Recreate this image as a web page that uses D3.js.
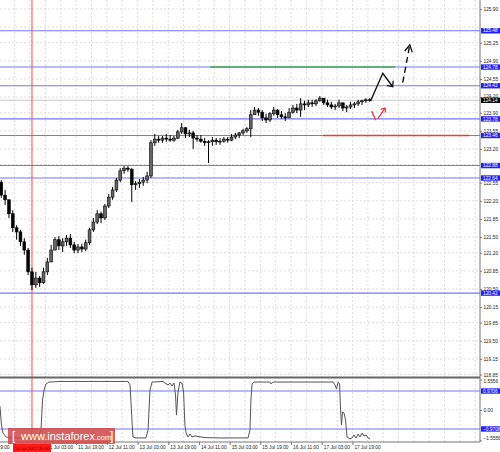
<!DOCTYPE html>
<html><head><meta charset="utf-8">
<script src="https://cdn.jsdelivr.net/npm/d3@7"></script>
<style>body{margin:0;background:#fff}svg{display:block}text{font-family:"Liberation Sans",Arial,sans-serif}</style>
</head><body>
<svg id="c" width="500" height="452"></svg>
<script>
// ---------- DATA ----------
// 2-hour bars, hour index = barStartHour + 2*i (hour 0 = 9 Jul 19:00)
const barStartHour = 9, barStep = 2;
const opens  = [122.56,122.31,122.22,121.95,121.68,121.60,121.41,121.25,120.83,120.58,120.71,120.62,120.83,121.02,121.25,121.45,121.33,121.41,121.48,121.35,121.25,121.31,121.27,121.39,121.64,121.79,121.95,121.87,122.10,122.27,122.41,122.60,122.78,122.83,122.81,122.51,122.53,122.56,122.60,122.68,123.32,123.39,123.37,123.41,123.39,123.37,123.41,123.53,123.61,123.49,123.51,123.41,123.39,123.35,123.32,123.34,123.37,123.34,123.35,123.39,123.37,123.43,123.47,123.51,123.55,123.59,123.86,123.95,123.91,123.80,123.76,123.88,123.95,123.86,123.82,123.80,123.91,123.99,123.95,124.07,124.05,124.09,124.07,124.13,124.18,124.09,124.05,124.01,124.03,124.09,123.99,124.01,124.05,124.07,124.11,124.13,124.15];
const highs  = [122.60,122.41,122.22,122.02,121.73,121.64,121.48,121.29,120.91,120.83,120.75,120.91,121.10,121.35,121.50,121.52,121.48,121.54,121.56,121.41,121.37,121.37,121.45,121.68,121.87,122.02,121.99,122.14,122.33,122.47,122.64,122.83,122.87,122.87,122.83,122.58,122.62,122.66,122.76,123.37,123.49,123.45,123.45,123.49,123.47,123.45,123.57,123.70,123.62,123.57,123.55,123.47,123.47,123.41,123.37,123.43,123.41,123.41,123.43,123.43,123.49,123.51,123.53,123.59,123.62,123.95,124.01,123.99,123.95,123.88,123.91,124.01,123.97,123.93,123.89,123.99,124.05,124.07,124.18,124.13,124.15,124.15,124.16,124.22,124.18,124.15,124.11,124.07,124.15,124.09,124.05,124.11,124.11,124.15,124.15,124.18,124.18];
const lows   = [122.26,122.12,121.87,121.60,121.45,121.33,121.16,120.77,120.48,120.52,120.54,120.60,120.77,121.02,121.25,121.25,121.21,121.33,121.29,121.19,121.19,121.21,121.23,121.35,121.60,121.75,121.77,121.83,122.06,122.22,122.37,122.56,122.72,122.76,122.18,122.41,122.45,122.49,122.54,122.64,123.26,123.32,123.32,123.34,123.34,123.34,123.39,123.49,123.41,123.43,123.20,123.34,123.32,123.26,122.93,123.26,123.28,123.28,123.32,123.32,123.35,123.39,123.41,123.47,123.51,123.43,123.86,123.84,123.74,123.70,123.72,123.84,123.80,123.78,123.74,123.80,123.88,123.89,123.82,123.95,124.01,124.01,124.03,124.11,124.05,124.01,123.97,123.95,123.99,123.93,123.91,123.97,123.99,124.03,124.05,124.09,124.11];
const closes = [122.31,122.22,121.95,121.68,121.60,121.41,121.25,120.83,120.58,120.71,120.62,120.83,121.02,121.25,121.45,121.33,121.41,121.48,121.35,121.25,121.31,121.27,121.39,121.64,121.79,121.95,121.87,122.10,122.27,122.41,122.60,122.78,122.83,122.81,122.51,122.53,122.56,122.60,122.68,123.32,123.39,123.37,123.41,123.39,123.37,123.41,123.53,123.61,123.49,123.51,123.41,123.39,123.35,123.32,123.34,123.37,123.34,123.35,123.39,123.37,123.43,123.47,123.51,123.55,123.59,123.86,123.95,123.91,123.80,123.76,123.88,123.95,123.86,123.82,123.80,123.91,123.99,123.95,124.07,124.05,124.09,124.07,124.13,124.18,124.09,124.05,124.01,124.03,124.09,123.99,124.01,124.05,124.07,124.11,124.13,124.15,124.14];

// grid levels (all) and the price labels that are visible (others hidden under level boxes)
const priceGrid  = [125.90,125.55,125.25,124.90,124.55,124.20,123.90,123.55,123.20,122.90,122.55,122.20,121.85,121.50,121.20,120.85,120.50,120.15,119.85,119.50,119.15,118.85];
const priceTicks = [125.90,125.25,124.90,124.55,124.20,123.90,123.55,123.20,122.55,122.20,121.85,121.50,121.20,120.85,120.50,120.15,119.85,119.50,119.15,118.85];
const levelPrices = [125.48,124.78,124.42,123.78,123.46,122.88,122.64,120.42];
const currentPrice = 124.14;

const timeLabels = ["9 Jul 19:00","10 Jul 11:00","11 Jul 03:00","11 Jul 19:00","12 Jul 11:00","13 Jul 03:00","13 Jul 19:00","14 Jul 11:00","15 Jul 03:00","15 Jul 19:00","16 Jul 11:00","17 Jul 03:00","17 Jul 19:00"];
const timeLabelHours = [0,16,32,48,64,80,96,112,128,144,160,176,192];
const markerHour = 25, markerLabel = "10 Jul 2017 20:00";

const indHours  = [8.3,9.1,9.9,11.5,14.6,21.4,28.1,29.7,30.5,31.3,32.3,33.9,39.6,60.5,75.0,76.1,77.1,77.6,79.2,84.4,85.5,86.5,87.6,93.3,94.3,95.9,96.9,98.0,99.0,99.8,100.3,101.1,102.1,103.2,104.0,104.7,105.3,106.3,107.4,108.4,110.0,115.2,123.0,137.6,138.6,139.1,139.7,140.7,149.0,149.6,150.6,164.7,181.9,182.9,183.7,184.5,185.3,185.8,186.3,186.8,187.6,188.4,189.2,190.7,191.8,192.8,193.9,194.9,195.9,197.0,198.0,199.1,200.1,201.2];
const indValues = [0.20,-0.77,-1.18,-1.38,-1.43,-1.43,-1.43,-1.02,0.51,1.02,1.33,1.43,1.46,1.46,1.46,1.28,-0.51,-1.38,-1.43,-1.43,-1.02,1.02,1.43,1.46,1.38,1.28,1.38,1.23,1.38,0.77,-0.26,0.92,1.43,1.38,0.92,-0.77,-1.18,-1.38,-1.23,-1.38,-1.33,-1.41,-1.43,-1.43,-1.02,0.51,1.33,1.43,1.43,1.33,1.43,1.43,1.43,1.28,1.07,1.43,1.33,0.00,-0.77,-0.10,-0.15,-0.51,-1.38,-1.48,-1.43,-1.28,-1.43,-1.23,-1.38,-1.18,-1.33,-1.28,-1.43,-1.48];
const indTicks = [1.5556, 0.00, -1.5556];
const indLevels = [0.9706, -0.9706];

// forecast drawings (hour, price)
const greenLine = {hours:[117.8,214.2], price:124.78};
const redLine   = {hours:[176.7,252.7], price:123.46};
const solidArrowHours = [201.5,207.8,213.0], solidArrowPrices = [124.13,124.66,124.40];
const dashArrowHours  = [218.2,221.9],       dashArrowPrices  = [124.48,125.21];
const redArrowHours   = [202.0,204.1,205.2,209.0], redArrowPrices = [123.93,123.76,123.78,123.99];

// ---------- LAYOUT ----------
const plotR = 480, mainBot = 377, indTop = 378, indBot = 442;
const x = d3.scaleLinear().domain([0,100]).range([-16,-16+191.9]);
const y = d3.scaleLinear().domain([118.85,125.90]).range([374.5,9]);
const yi = d3.scaleLinear().domain([-1.5556,1.5556]).range([440.4,379.6]);

const svg = d3.select("#c");
const defs = svg.append("defs");
defs.append("clipPath").attr("id","cm").append("rect").attr("x",0).attr("y",0).attr("width",plotR).attr("height",mainBot);
defs.append("clipPath").attr("id","ci").append("rect").attr("x",0).attr("y",indTop).attr("width",plotR).attr("height",indBot-indTop);

const gridCol = "#d4d4d4";
const vHours = d3.range(0, 260, 8);
svg.append("g").selectAll("line").data(vHours).join("line")
  .attr("x1",d=>x(d)).attr("x2",d=>x(d)).attr("y1",0).attr("y2",indBot)
  .attr("stroke",gridCol).attr("stroke-width",0.8).attr("stroke-dasharray","2,2");
svg.append("g").attr("clip-path","url(#cm)").selectAll("line").data(priceGrid).join("line")
  .attr("x1",0).attr("x2",plotR).attr("y1",d=>y(d)).attr("y2",d=>y(d))
  .attr("stroke",gridCol).attr("stroke-width",0.8).attr("stroke-dasharray","2,2");
svg.append("g").selectAll("line").data([0]).join("line")
  .attr("x1",0).attr("x2",plotR).attr("y1",d=>yi(d)).attr("y2",d=>yi(d))
  .attr("stroke",gridCol).attr("stroke-width",0.8).attr("stroke-dasharray","2,2");

svg.append("line").attr("x1",0).attr("x2",plotR).attr("y1",y(currentPrice)).attr("y2",y(currentPrice))
  .attr("stroke","#c8c8c8").attr("stroke-width",1);

const blue = "#7474ff";
svg.append("g").selectAll("line").data(levelPrices).join("line")
  .attr("x1",0).attr("x2",plotR).attr("y1",d=>y(d)).attr("y2",d=>y(d))
  .attr("stroke",blue).attr("stroke-width",1.1);
svg.append("g").selectAll("line").data(indLevels).join("line")
  .attr("x1",0).attr("x2",plotR).attr("y1",d=>yi(d)).attr("y2",d=>yi(d))
  .attr("stroke",blue).attr("stroke-width",1.1);

svg.append("line").attr("x1",x(greenLine.hours[0])).attr("x2",x(greenLine.hours[1]))
  .attr("y1",y(greenLine.price)).attr("y2",y(greenLine.price)).attr("stroke","#3fae49").attr("stroke-width",1.6);
svg.append("line").attr("x1",x(redLine.hours[0])).attr("x2",x(redLine.hours[1]))
  .attr("y1",y(redLine.price)).attr("y2",y(redLine.price)).attr("stroke","#f03a3a").attr("stroke-width",1.6);

svg.append("line").attr("x1",x(markerHour)).attr("x2",x(markerHour)).attr("y1",0).attr("y2",indBot)
  .attr("stroke","#ff4a4a").attr("stroke-width",1);

// candles
const bars = opens.map((o,i)=>({h:barStartHour+barStep*i,o,hi:highs[i],lo:lows[i],c:closes[i]}));
const gc = svg.append("g").attr("clip-path","url(#cm)");
gc.selectAll("line").data(bars).join("line")
  .attr("x1",d=>x(d.h)).attr("x2",d=>x(d.h)).attr("y1",d=>y(d.hi)).attr("y2",d=>y(d.lo))
  .attr("stroke","#000").attr("stroke-width",1);
gc.selectAll("rect").data(bars).join("rect")
  .attr("x",d=>x(d.h)-1.4).attr("width",2.8)
  .attr("y",d=>Math.min(y(d.o),y(d.c))).attr("height",d=>Math.max(0.8,Math.abs(y(d.o)-y(d.c))))
  .attr("fill",d=>d.c>=d.o?"#666":"#000").attr("stroke","#000").attr("stroke-width",0.6);

// indicator line
const ind = indHours.map((h,i)=>[h,indValues[i]]);
svg.append("path").attr("clip-path","url(#ci)").datum(ind)
  .attr("d",d3.line().x(d=>x(d[0])).y(d=>yi(d[1])))
  .attr("fill","none").attr("stroke","#555").attr("stroke-width",1);

// arrows
function arrowHead(g, p0, p1, len, spread, color){
  const a = Math.atan2(p1[1]-p0[1], p1[0]-p0[0]) + Math.PI;
  const pts = [[p1[0]+len*Math.cos(a-spread), p1[1]+len*Math.sin(a-spread)], p1, [p1[0]+len*Math.cos(a+spread), p1[1]+len*Math.sin(a+spread)]];
  g.append("path").attr("d", d3.line()(pts)).attr("fill","none").attr("stroke",color).attr("stroke-width",1.3);
}
const ga = svg.append("g");
const sa = solidArrowHours.map((h,i)=>[x(h), y(solidArrowPrices[i])]);
ga.append("path").attr("d",d3.line()(sa)).attr("fill","none").attr("stroke","#111").attr("stroke-width",1.4);
arrowHead(ga, sa[1], sa[2], 6, 0.7, "#111");
const da = dashArrowHours.map((h,i)=>[x(h), y(dashArrowPrices[i])]);
ga.append("path").attr("d",d3.line()(da)).attr("fill","none").attr("stroke","#111").attr("stroke-width",1.4).attr("stroke-dasharray","6,4");
arrowHead(ga, da[0], da[1], 8, 0.5, "#111");
const ra = redArrowHours.map((h,i)=>[x(h), y(redArrowPrices[i])]);
ga.append("path").attr("d",d3.line()([ra[0],ra[1]])).attr("fill","none").attr("stroke","#f03a3a").attr("stroke-width",1.3);
ga.append("path").attr("d",d3.line()([ra[2],ra[3]])).attr("fill","none").attr("stroke","#f03a3a").attr("stroke-width",1.3);
arrowHead(ga, ra[2], ra[3], 4.5, 0.7, "#f03a3a");

// panel frame
svg.append("line").attr("x1",plotR).attr("x2",plotR).attr("y1",0).attr("y2",indBot).attr("stroke","#777").attr("stroke-width",1);
svg.append("line").attr("x1",0).attr("x2",plotR).attr("y1",mainBot+0.5).attr("y2",mainBot+0.5).attr("stroke","#666").attr("stroke-width",2);
svg.append("line").attr("x1",0).attr("x2",plotR).attr("y1",indBot).attr("y2",indBot).attr("stroke","#777").attr("stroke-width",1);

// right axis (price)
const fs = 4.8;
const ax = svg.append("g").attr("transform",`translate(${plotR},0)`)
  .call(d3.axisRight(y).tickValues(priceTicks).tickSize(2).tickPadding(1.5).tickFormat(d3.format(".2f")));
ax.select(".domain").remove();
ax.selectAll("line").attr("stroke","#777");
ax.selectAll("text").attr("font-size",fs).attr("fill","#222").attr("font-family","Liberation Sans, Arial")
  .attr("dy",d=>d===124.20?"0.05em":"0.32em");
const ai = svg.append("g").attr("transform",`translate(${plotR},0)`)
  .call(d3.axisRight(yi).tickValues(indTicks).tickSize(2).tickPadding(1.5).tickFormat(d=>d===0?"0.00":d3.format(".4f")(d)));
ai.select(".domain").remove();
ai.selectAll("line").attr("stroke","#777");
ai.selectAll("text").attr("font-size",fs).attr("fill","#222").attr("font-family","Liberation Sans, Arial")
  .attr("dy",(d)=>d<-1?"-0.2em":(d>1?"0.5em":"0.32em"));

function box(yy, txt, bg, fg){
  const g = svg.append("g");
  g.append("rect").attr("x",plotR+1).attr("y",yy-2.7).attr("width",500-plotR-1).attr("height",5.4).attr("fill",bg);
  g.append("text").attr("x",plotR+3).attr("y",yy+1.7).attr("font-size",fs).attr("fill",fg).text(txt);
}
levelPrices.forEach(p=>box(y(p), d3.format(".2f")(p), "#2020ff", "#fff"));
indLevels.forEach(v=>box(yi(v), d3.format(".4f")(v), "#2020ff", "#fff"));
box(y(currentPrice), d3.format(".2f")(currentPrice), "#000", "#fff");

// bottom time axis
const mx = x(markerHour);
const bx = svg.append("g").attr("transform",`translate(0,${indBot})`)
  .call(d3.axisBottom(x).tickValues(timeLabelHours).tickSize(3).tickFormat((d,i)=>timeLabels[i]));
bx.select(".domain").remove();
bx.selectAll("line").attr("stroke","#777");
bx.selectAll("text").attr("font-size",4.8).attr("fill","#222").attr("text-anchor","start")
  .attr("dx",1.5).attr("y",3.3).attr("dy","0.71em").attr("font-family","Liberation Sans, Arial");
// the time label hidden under the vertical-line marker label is not drawn (as in the reference)
bx.selectAll(".tick text").filter(d=>Math.abs(x(d)+12-mx)<24).remove();

// marker label
svg.append("rect").attr("x",mx-19).attr("y",444).attr("width",38).attr("height",8).attr("fill","#ff1a1a");
svg.append("text").attr("x",mx).attr("y",449.8).attr("text-anchor","middle").attr("font-size",4.4).attr("fill","#7a0000").text(markerLabel);

// watermark
const wm = svg.append("g");
wm.append("rect").attr("x",8).attr("y",428).attr("width",107).attr("height",16).attr("fill","#d24a4a").attr("opacity",0.88);
wm.append("text").attr("x",12).attr("y",440).attr("font-size",12).attr("fill","#fff").text("[");
const t = wm.append("text").attr("x",21).attr("y",440).attr("fill","#fff");
t.append("tspan").attr("font-size",11).text("www.instaforex");
t.append("tspan").attr("font-size",7.5).text(".com");
wm.append("text").attr("x",110).attr("y",440).attr("font-size",12).attr("fill","#fff").text("]");
</script>
</body></html>
